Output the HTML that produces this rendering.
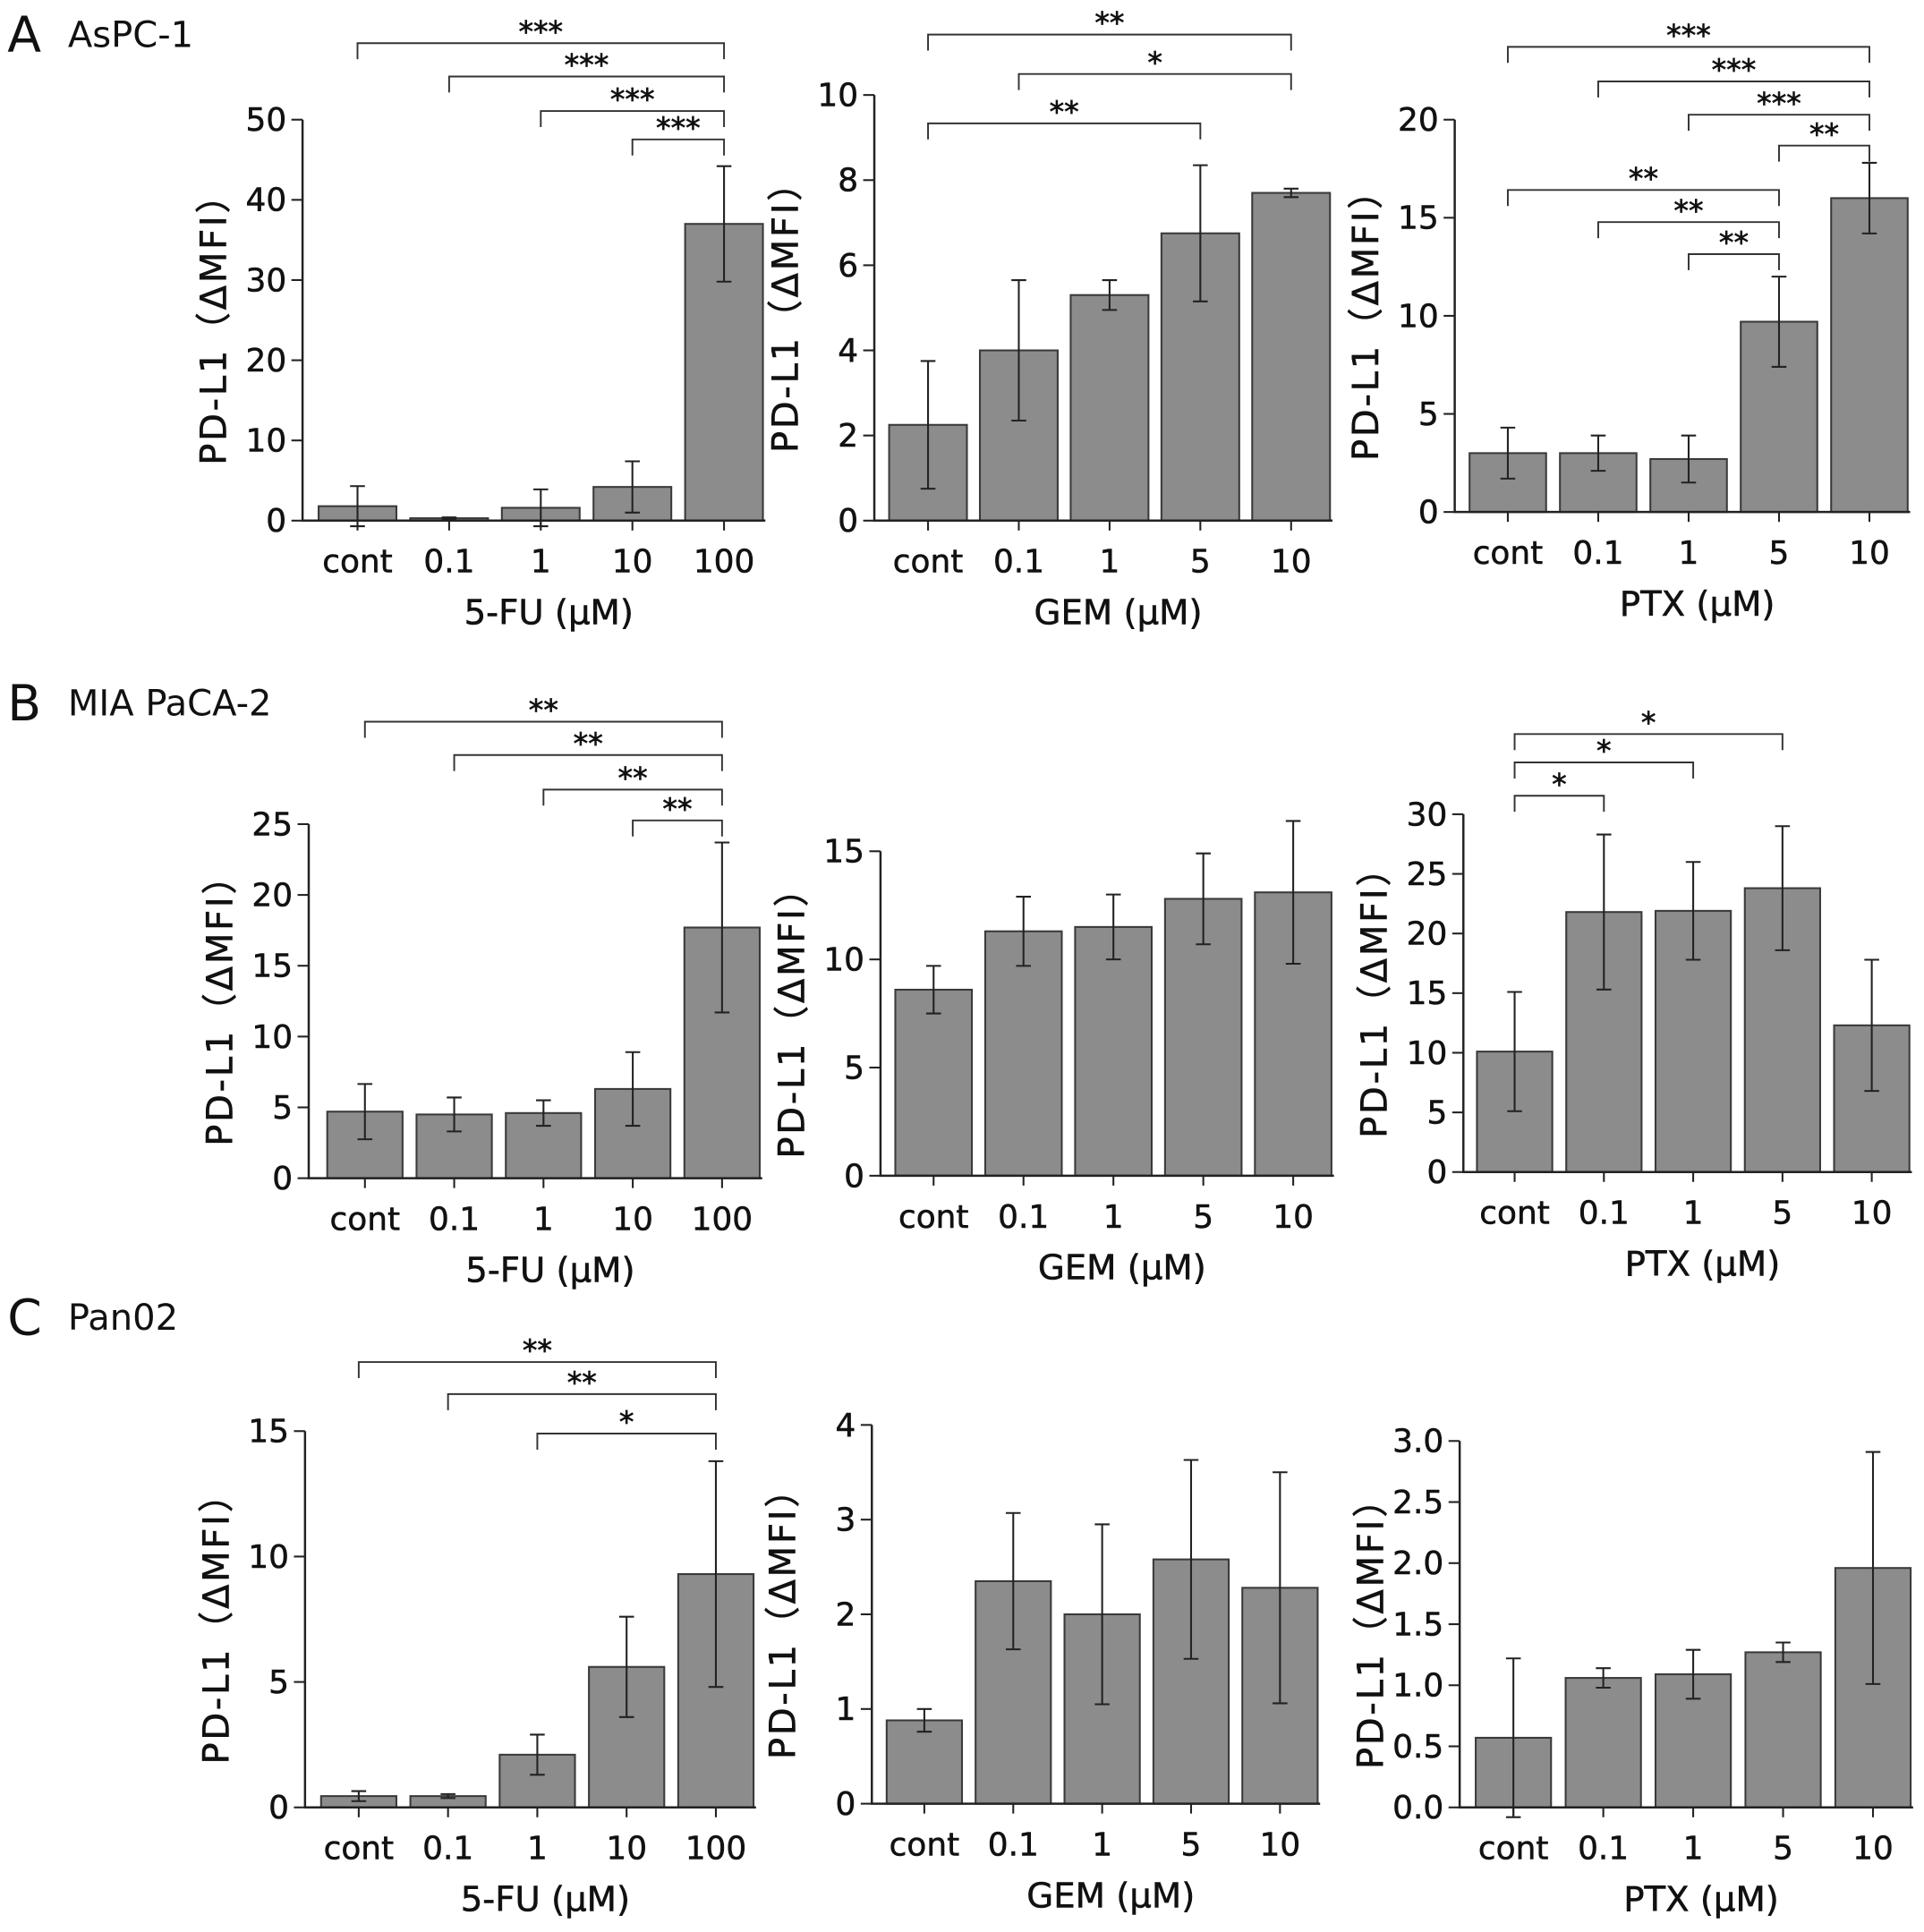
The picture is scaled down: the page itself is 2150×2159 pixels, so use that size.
<!DOCTYPE html>
<html><head><meta charset="utf-8"><style>
html,body{margin:0;padding:0;background:#fff;}
svg{display:block;font-family:"DejaVu Sans","Liberation Sans","Noto Sans CJK JP",sans-serif;}
</style></head><body>
<svg id="fig" width="2150" height="2159" viewBox="0 0 1558 1566" preserveAspectRatio="none" xmlns="http://www.w3.org/2000/svg"></svg>
<script>
// ---- data ----
const catsFU = ["cont","0.1","1","10","100"];
const catsDrug = ["cont","0.1","1","5","10"];
const valsA1 = [1.8,0.3,1.6,4.2,37];     const errA1 = [2.5,0.1,2.3,3.2,7.2];
const valsA2 = [2.25,4.0,5.3,6.75,7.7];  const errA2 = [1.5,1.65,0.35,1.6,0.1];
const valsA3 = [3.0,3.0,2.7,9.7,16.0];   const errA3 = [1.3,0.9,1.2,2.3,1.8];
const valsB1 = [4.7,4.5,4.6,6.3,17.7];   const errB1 = [1.95,1.2,0.9,2.6,6.0];
const valsB2 = [8.6,11.3,11.5,12.8,13.1];const errB2 = [1.1,1.6,1.5,2.1,3.3];
const valsB3 = [10.1,21.8,21.9,23.8,12.3];const errB3 = [5.0,6.5,4.1,5.2,5.5];
const valsC1 = [0.45,0.45,2.1,5.6,9.3];  const errC1 = [0.2,0.08,0.8,2.0,4.5];
const valsC2 = [0.88,2.35,2.0,2.58,2.28];const errC2 = [0.12,0.72,0.95,1.05,1.22];
const valsC3 = [0.57,1.06,1.09,1.27,1.96];const errC3 = [0.65,0.08,0.2,0.08,0.95];
const ticksA1 = [0,10,20,30,40,50];
const ticksA2 = [0,2,4,6,8,10];
const ticksA3 = [0,5,10,15,20];
const ticksB1 = [0,5,10,15,20,25];
const ticksB2 = [0,5,10,15];
const ticksB3 = [0,5,10,15,20,25,30];
const ticksC1 = [0,5,10,15];
const ticksC2 = [0,1,2,3,4];
const ticksC3 = ["0.0","0.5","1.0","1.5","2.0","2.5","3.0"];
const sigA1 = [[0,4,"***"],[1,4,"***"],[2,4,"***"],[3,4,"***"]];
const sigA2 = [[0,4,"**"],[1,4,"*"],[0,3,"**"]];
const sigA3 = [[0,4,"***"],[1,4,"***"],[2,4,"***"],[3,4,"**"],[0,3,"**"],[1,3,"**"],[2,3,"**"]];
const sigB1 = [[0,4,"**"],[1,4,"**"],[2,4,"**"],[3,4,"**"]];
const sigB3 = [[0,3,"*"],[0,2,"*"],[0,1,"*"]];
const sigC1 = [[0,4,"**"],[1,4,"**"],[2,4,"*"]];

const panels = [
 {id:"a1",ax:245,y0:422,yTop:97,bx0:258,step:74.2,bw:63,cats:catsFU,v:valsA1,e:errA1,t:ticksA1,xt:"5-FU (µM)",sig:sigA1,sy:[35,62,90,113]},
 {id:"a2",ax:708,y0:422,yTop:77,bx0:720,step:73.5,bw:63,cats:catsDrug,v:valsA2,e:errA2,t:ticksA2,xt:"GEM (µM)",sig:sigA2,sy:[28,60,100]},
 {id:"a3",ax:1178,y0:415,yTop:97,bx0:1190,step:73.2,bw:62,cats:catsDrug,v:valsA3,e:errA3,t:ticksA3,xt:"PTX (µM)",sig:sigA3,sy:[38,66,93,118,154,180,206]},
 {id:"b1",ax:250,y0:955,yTop:668,bx0:265,step:72.3,bw:61,cats:catsFU,v:valsB1,e:errB1,t:ticksB1,xt:"5-FU (µM)",sig:sigB1,sy:[585,612,640,665]},
 {id:"b2",ax:713,y0:953,yTop:690,bx0:725,step:72.8,bw:62,cats:catsDrug,v:valsB2,e:errB2,t:ticksB2,xt:"GEM (µM)",sig:[],sy:[]},
 {id:"b3",ax:1185,y0:950,yTop:660,bx0:1196,step:72.3,bw:61,cats:catsDrug,v:valsB3,e:errB3,t:ticksB3,xt:"PTX (µM)",sig:sigB3,sy:[595,618,645]},
 {id:"c1",ax:247,y0:1465,yTop:1160,bx0:260,step:72.3,bw:61,cats:catsFU,v:valsC1,e:errC1,t:ticksC1,xt:"5-FU (µM)",sig:sigC1,sy:[1104,1130,1162]},
 {id:"c2",ax:706,y0:1462,yTop:1155,bx0:718,step:72,bw:61,cats:catsDrug,v:valsC2,e:errC2,t:ticksC2,xt:"GEM (µM)",sig:[],sy:[]},
 {id:"c3",ax:1182,y0:1465,yTop:1168,bx0:1195,step:72.8,bw:61,cats:catsDrug,v:valsC3,e:errC3,t:ticksC3,xt:"PTX (µM)",sig:[],sy:[]}
];
const NS="http://www.w3.org/2000/svg";
const svg=document.getElementById('fig');
function mk(tag,attrs,parent){const el=document.createElementNS(NS,tag);for(const k in attrs)el.setAttribute(k,attrs[k]);(parent||svg).appendChild(el);return el;}

[["A","AsPC-1",42],["B","MIA PaCA-2",584],["C","Pan02",1082]].forEach(([L,name,y])=>{
 const t=mk('text',{x:6,y:y,'font-size':40,fill:'#111'});t.textContent=L;
 
 
 const n=mk('text',{x:55,y:y-4,'font-size':29,fill:'#111'});n.textContent=name;
 
 
});

panels.forEach(p=>{
 const g=mk('g',{});
 
 
 const tv=p.t.map(Number);const ymax=tv[tv.length-1];
 const ys=v=>p.y0-(v/ymax)*(p.y0-p.yTop);
 const xc=i=>p.bx0+i*p.step+p.bw/2;
 const xEnd=p.bx0+4*p.step+p.bw+2;
 p.v.forEach((v,i)=>{
  const r=mk('rect',{x:p.bx0+i*p.step,y:ys(v),width:p.bw,height:p.y0-ys(v),fill:'#8c8c8c',stroke:'#3a3a3a','stroke-width':1.5},g);
  
  
  const hi=ys(v+p.e[i]),lo=ys(Math.max(v-p.e[i],-0.04*ymax)),x=xc(i);
  const eb=mk('path',{d:`M${x},${hi}V${lo}M${x-6},${hi}H${x+6}M${x-6},${lo}H${x+6}`,stroke:'#222','stroke-width':1.5,fill:'none'},g);
  
  
  const lab=mk('text',{x:x,y:p.y0+42,'font-size':26,'text-anchor':'middle',fill:'#111','stroke':'#111','stroke-width':0.4},g);lab.textContent=p.cats[i];
  
  
  mk('line',{x1:x,x2:x,y1:p.y0,y2:p.y0+8,stroke:'#222','stroke-width':1.5},g);
 });
 const axes=mk('path',{d:`M${p.ax},${p.yTop}V${p.y0}H${xEnd}`,stroke:'#222','stroke-width':1.8,fill:'none'},g);
 
 
 p.t.forEach(t=>{
  const y=ys(Number(t));
  mk('line',{x1:p.ax-9,x2:p.ax,y1:y,y2:y,stroke:'#222','stroke-width':1.5},g);
  const tl=mk('text',{x:p.ax-13,y:y+9,'font-size':26,'text-anchor':'end',fill:'#111','stroke':'#111','stroke-width':0.4},g);tl.textContent=t;
  
  
 });
 const cx=(p.ax+xEnd)/2+12;
 const xt=mk('text',{x:cx,y:p.y0+84,'font-size':28,'text-anchor':'middle',fill:'#111','stroke':'#111','stroke-width':0.4},g);xt.textContent=p.xt;
 
 
 const ym=(p.y0+p.yTop)/2, yx=p.ax-62;
 const yt=mk('text',{x:yx,y:ym,'font-size':29,'letter-spacing':2,'text-anchor':'middle',fill:'#111','stroke':'#111','stroke-width':0.4,transform:`rotate(-90 ${yx} ${ym})`},g);yt.textContent="PD-L1（ΔMFI）";
 
 
 p.sig.forEach((s,k)=>{
  const y=p.sy[k],x1=xc(s[0]),x2=xc(s[1]);
  const br=mk('path',{d:`M${x1},${y+13}V${y}H${x2}V${y+13}`,stroke:'#333','stroke-width':1.4,fill:'none'},g);
  
  
  const st=mk('text',{x:(x1+x2)/2,y:y-1,'font-size':24,'text-anchor':'middle',fill:'#111','stroke':'#111','stroke-width':0.5},g);st.textContent=s[2];
  
  
 });
});
</script>
</body></html>
